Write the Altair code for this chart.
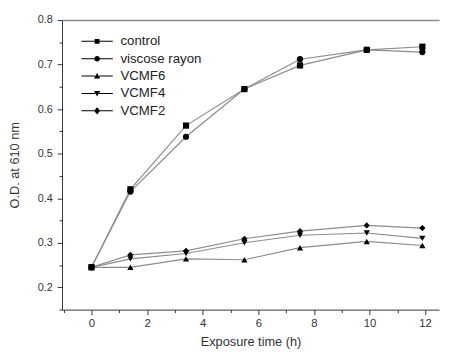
import altair as alt
import pandas as pd

times = [0, 1.4, 3.4, 5.5, 7.5, 9.9, 11.9]
series = ["control", "viscose rayon", "VCMF6", "VCMF4", "VCMF2"]
control = [0.245, 0.420, 0.563, 0.645, 0.698, 0.733, 0.740]
viscose = [0.245, 0.415, 0.538, 0.645, 0.712, 0.733, 0.728]
vcmf6 = [0.245, 0.245, 0.264, 0.262, 0.289, 0.303, 0.294]
vcmf4 = [0.245, 0.264, 0.276, 0.300, 0.317, 0.322, 0.310]
vcmf2 = [0.245, 0.273, 0.282, 0.309, 0.326, 0.339, 0.333]

x_major = [0, 2, 4, 6, 8, 10, 12]
x_minor = [-1, 1, 3, 5, 7, 9, 11]
y_major = [0.2, 0.3, 0.4, 0.5, 0.6, 0.7, 0.8]
y_minor = [0.15, 0.25, 0.35, 0.45, 0.55, 0.65, 0.75]

shapes = ["square", "circle", "triangle-up", "triangle-down", "diamond"]
LINE = "M-4,-0.13H-0.5V0.13H-4ZM0.5,-0.13H4V0.13H0.5Z"
legend_paths = [
    LINE + "M-0.62,-0.62H0.62V0.62H-0.62Z",
    LINE + "M0.72,0A0.72,0.72,0,1,1,-0.72,0A0.72,0.72,0,1,1,0.72,0Z",
    LINE + "M0,-0.8L0.8,0.6H-0.8Z",
    LINE + "M0,0.8L0.8,-0.6H-0.8Z",
    LINE + "M0,-0.9L0.8,0L0,0.9L-0.8,0Z",
]

rows = []
for name, vals in zip(series, [control, viscose, vcmf6, vcmf4, vcmf2]):
    for t, v in zip(times, vals):
        rows.append({"series": name, "time": t, "od": v})
df = pd.DataFrame(rows)

xs = alt.Scale(domain=[-1.06, 12.5], nice=False, zero=False)
ys = alt.Scale(domain=[0.15, 0.8], nice=False, zero=False)

common_axis = dict(domainColor="#333", tickColor="#333", labelColor="#333",
                   titleColor="#333", labelFont="Liberation Sans",
                   titleFont="Liberation Sans", grid=False)

x_major_axis = alt.Axis(values=x_major, orient="bottom", tickSize=5, labelFontSize=11.5,
                        labelPadding=3, title="Exposure time (h)", titleFontSize=13,
                        titleFontWeight="normal", titlePadding=7, **common_axis)
y_major_axis = alt.Axis(values=y_major, orient="left", tickSize=5, labelFontSize=11,
                        labelPadding=5, format=".1f", title="O.D. at 610 nm",
                        titleFontSize=13, titleFontWeight="normal", titlePadding=16,
                        **common_axis)
x_minor_axis = alt.Axis(values=x_minor, orient="bottom", tickSize=3, labels=False,
                        domain=False, title=None, **common_axis)
y_minor_axis = alt.Axis(values=y_minor, orient="left", tickSize=3, labels=False,
                        domain=False, title=None, **common_axis)
x_top_axis = alt.Axis(orient="top", ticks=False, labels=False, title=None,
                      domainColor="#8a8a8a", domainWidth=1.5, grid=False)

base = alt.Chart(df)

lines = base.mark_line(color="#8c8c8c", strokeWidth=1.2).encode(
    x=alt.X("time:Q", scale=xs, axis=x_major_axis),
    y=alt.Y("od:Q", scale=ys, axis=y_major_axis),
    detail="series:N",
)

points = base.mark_point(filled=True, color="black", size=40, opacity=1).encode(
    x=alt.X("time:Q", scale=xs, axis=None),
    y=alt.Y("od:Q", scale=ys, axis=None),
    shape=alt.Shape("series:N", scale=alt.Scale(domain=series, range=shapes), legend=None),
)

legend_layer = base.transform_filter("false").mark_point(
    filled=True, color="black", opacity=1
).encode(
    x=alt.X("time:Q", scale=xs, axis=None),
    y=alt.Y("od:Q", scale=ys, axis=None),
    shape=alt.Shape(
        "series:N",
        scale=alt.Scale(domain=series, range=legend_paths),
        legend=alt.Legend(
            title=None, orient="none", legendX=29, legendY=15, padding=0,
            labelOffset=17, rowPadding=2.7, labelFontSize=13.5,
            labelFont="Liberation Sans", labelColor="#222",
            symbolSize=64, symbolFillColor="black", symbolOpacity=1,
        ),
    ),
)

minor = base.transform_filter("false").mark_point().encode(
    x=alt.X("time:Q", scale=xs, axis=x_minor_axis),
    y=alt.Y("od:Q", scale=ys, axis=y_minor_axis),
)

frame = base.transform_filter("false").mark_point().encode(
    x=alt.X("time:Q", scale=xs, axis=x_top_axis),
    y=alt.Y("od:Q", scale=ys, axis=None),
)

chart = alt.layer(lines, points, legend_layer, minor, frame).resolve_axis(
    x="independent", y="independent"
).resolve_scale(shape="independent").properties(
    width=384, height=295,
    autosize=alt.AutoSizeParams(type="none"),
    padding={"left": 55, "top": 9, "right": 2, "bottom": 43},
    background="white",
).configure_view(stroke=None)

chart.save("out.html", embed_options={"renderer": "svg", "actions": False})
